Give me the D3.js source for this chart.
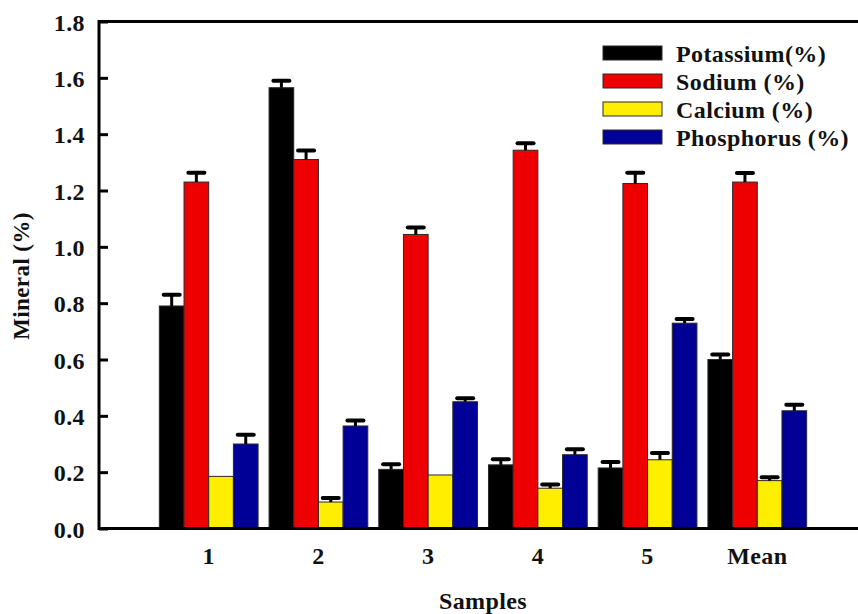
<!DOCTYPE html>
<html>
<head>
<meta charset="utf-8">
<script src="https://cdn.jsdelivr.net/npm/d3@7"></script>
<style>
  html, body { margin: 0; padding: 0; background: #fff; }
  svg { display: block; }
  text { font-family: "Liberation Serif", "Times New Roman", serif; font-weight: bold; fill: #111; letter-spacing: 0.4px; }
</style>
</head>
<body>
<svg id="chart" width="858" height="614"></svg>
<script>
// Mineral content per sample (%), with standard errors
const categories = ["1", "2", "3", "4", "5", "Mean"];
const seriesNames = ["Potassium(%)", "Sodium (%)", "Calcium (%)", "Phosphorus (%)"];
const seriesColors = ["#000000", "#ee0000", "#ffee00", "#000096"];

const potassium = [0.79, 1.565, 0.21, 0.226, 0.215, 0.60];
const potassiumErr = [0.04, 0.025, 0.018, 0.02, 0.021, 0.018];
const sodium = [1.23, 1.31, 1.044, 1.343, 1.225, 1.23];
const sodiumErr = [0.033, 0.032, 0.025, 0.025, 0.038, 0.032];
const calcium = [0.185, 0.094, 0.19, 0.143, 0.244, 0.17];
const calciumErr = [0, 0.014, 0, 0.013, 0.024, 0.012];
const phosphorus = [0.30, 0.364, 0.45, 0.262, 0.729, 0.418];
const phosphorusErr = [0.033, 0.019, 0.012, 0.019, 0.015, 0.021];

const yTicks = [0.0, 0.2, 0.4, 0.6, 0.8, 1.0, 1.2, 1.4, 1.6, 1.8];

const seriesValues = [potassium, sodium, calcium, phosphorus];
const seriesErrors = [potassiumErr, sodiumErr, calciumErr, phosphorusErr];

const rows = categories.map((c, i) => ({
  category: c,
  bars: seriesNames.map((s, j) => ({ series: s, color: seriesColors[j], value: seriesValues[j][i], err: seriesErrors[j][i] }))
}));

const svg = d3.select("#chart");
const plotLeft = 99, plotTop = 21.5, plotBottom = 528.5;

const y = d3.scaleLinear().domain([0, 1.8]).range([plotBottom, plotTop]);
const x0 = d3.scaleBand().domain(categories).range([plotLeft, 867]).paddingInner(0.1).paddingOuter(0.55);
const x1 = d3.scaleBand().domain(seriesNames).range([0, x0.bandwidth()]);

// Bars
const groups = svg.append("g").selectAll("g").data(rows).join("g")
  .attr("transform", d => `translate(${x0(d.category)},0)`);

groups.selectAll("rect").data(d => d.bars).join("rect")
  .attr("x", d => x1(d.series))
  .attr("y", d => y(d.value))
  .attr("width", x1.bandwidth())
  .attr("height", d => y(0) - y(d.value))
  .attr("fill", d => d.color)
  .attr("stroke", "#2a2a2a")
  .attr("stroke-width", 1);

// Error bars (upper half only)
const eb = groups.selectAll("g.err").data(d => d.bars.filter(b => b.err > 0)).join("g").attr("class", "err");
eb.append("line")
  .attr("x1", d => x1(d.series) + x1.bandwidth() / 2)
  .attr("x2", d => x1(d.series) + x1.bandwidth() / 2)
  .attr("y1", d => y(d.value))
  .attr("y2", d => y(d.value + d.err))
  .attr("stroke", "#000").attr("stroke-width", 3);
eb.append("line")
  .attr("x1", d => x1(d.series) + x1.bandwidth() / 2 - 8)
  .attr("x2", d => x1(d.series) + x1.bandwidth() / 2 + 8)
  .attr("y1", d => y(d.value + d.err))
  .attr("y2", d => y(d.value + d.err))
  .attr("stroke", "#000").attr("stroke-width", 4).attr("stroke-linecap", "round");

// Frame
svg.append("rect")
  .attr("x", plotLeft).attr("y", plotTop)
  .attr("width", 820).attr("height", plotBottom - plotTop)
  .attr("fill", "none").attr("stroke", "#000").attr("stroke-width", 3);

// Y axis
const yAxis = svg.append("g").attr("transform", `translate(${plotLeft},0)`)
  .call(d3.axisLeft(y).tickValues(yTicks).tickFormat(d3.format(".1f")).tickSizeInner(-9).tickSizeOuter(0).tickPadding(14));
yAxis.select(".domain").remove();
yAxis.selectAll(".tick line").attr("stroke", "#000").attr("stroke-width", 3);
yAxis.selectAll(".tick text").style("font-size", "24px").attr("dy", "0.36em").attr("fill", "#111");

// X axis labels
const xAxis = svg.append("g").attr("transform", `translate(0,${plotBottom})`)
  .call(d3.axisBottom(x0).tickSize(0).tickPadding(14));
xAxis.select(".domain").remove();
xAxis.selectAll(".tick text").style("font-size", "24px").attr("dy", "0.9em").attr("fill", "#111");

// Axis titles
svg.append("text").attr("x", 483).attr("y", 609).attr("text-anchor", "middle")
  .style("font-size", "24px").text("Samples");
svg.append("text").attr("transform", "translate(29,276) rotate(-90)").attr("text-anchor", "middle")
  .style("font-size", "23px").text("Mineral (%)");

// Legend
const legend = svg.append("g").attr("transform", "translate(603,46)");
const li = legend.selectAll("g").data(seriesNames).join("g")
  .attr("transform", (d, i) => `translate(0,${i * 28})`);
li.append("rect").attr("width", 59).attr("height", 14)
  .attr("fill", (d, i) => seriesColors[i]).attr("stroke", "#2a2a2a").attr("stroke-width", 1);
li.append("text").attr("x", 73).attr("y", 7).attr("dy", "0.36em")
  .style("font-size", "24px").text(d => d);
</script>
</body>
</html>
